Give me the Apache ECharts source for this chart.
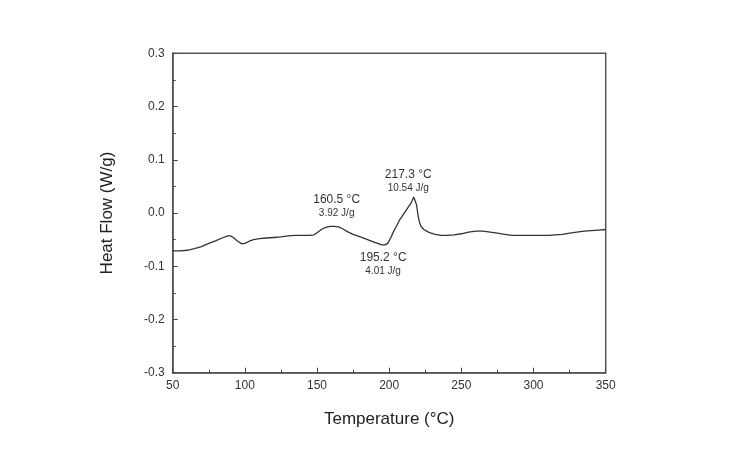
<!DOCTYPE html>
<html><head><meta charset="utf-8">
<script src="https://cdn.jsdelivr.net/npm/echarts@6/dist/echarts.min.js"></script>
<style>html,body{margin:0;padding:0;background:#fff}#c{width:737px;height:450px}</style>
</head><body><div id="c"></div>
<script>
var temps = [50,55,60,65,70,75,80,85,88,90,92,95,98,100,103,106,110,115,120,125,130,135,140,145,148,150,153,156,159,162,165,168,171,175,180,185,190,193,195,197,199,201,203,205,207,209,211,213,215,216,217,217.5,218,219,220,221,222,224,226,228,232,236,240,245,250,255,260,265,270,275,280,285,290,295,300,305,310,315,320,325,330,335,340,345,350];
var heatFlow = [-0.071,-0.071,-0.070,-0.067,-0.063,-0.057,-0.052,-0.046,-0.043,-0.043,-0.046,-0.053,-0.058,-0.057,-0.053,-0.050,-0.048,-0.047,-0.046,-0.045,-0.043,-0.042,-0.042,-0.042,-0.041,-0.037,-0.031,-0.027,-0.025,-0.025,-0.026,-0.030,-0.035,-0.040,-0.045,-0.050,-0.055,-0.058,-0.060,-0.060,-0.057,-0.047,-0.035,-0.025,-0.014,-0.006,0.002,0.010,0.018,0.024,0.030,0.032,0.030,0.015,-0.005,-0.018,-0.025,-0.031,-0.034,-0.037,-0.040,-0.042,-0.042,-0.041,-0.039,-0.036,-0.034,-0.034,-0.036,-0.038,-0.040,-0.042,-0.042,-0.042,-0.042,-0.042,-0.042,-0.041,-0.040,-0.038,-0.036,-0.034,-0.033,-0.032,-0.031];
var annTitles = ['160.5 \u00B0C','217.3 \u00B0C','195.2 \u00B0C'];
var annSubs = ['3.92 J/g','10.54 J/g','4.01 J/g'];
var annX = [163.6, 213.2, 195.8];
var annY = [0.012, 0.060, -0.096];

var data = temps.map(function(t,i){return [t, heatFlow[i]];});
var marks = annTitles.map(function(t,i){
  return {coord:[annX[i], annY[i]], value:t,
    label:{formatter:'{a|'+t+'}\n{b|'+annSubs[i]+'}'}};
});
var chart = echarts.init(document.getElementById('c'));
var tickCol = '#444';
chart.setOption({
  animation:false,
  backgroundColor:'#fff',
  grid:{left:172.7,right:131.3,top:53.3,bottom:77.3,show:true,borderColor:'#555',borderWidth:1.5,backgroundColor:'transparent'},
  xAxis:{type:'value',min:50,max:350,interval:50,
    name:'Temperature (\u00B0C)',nameLocation:'middle',nameGap:38,
    nameTextStyle:{fontFamily:'Liberation Sans, Arial',fontSize:17,color:'#222'},
    axisLine:{onZero:false,lineStyle:{color:'#555',width:1.5}},
    axisTick:{inside:true,length:5,lineStyle:{color:tickCol}},
    minorTick:{show:true,splitNumber:2,length:3,lineStyle:{color:tickCol}},
    splitLine:{show:false},
    axisLabel:{fontFamily:'Liberation Sans, Arial',fontSize:12,color:'#333',margin:7}},
  yAxis:{type:'value',min:-0.3,max:0.3,interval:0.1,
    name:'Heat Flow (W/g)',nameLocation:'middle',nameGap:57,
    nameTextStyle:{fontFamily:'Liberation Sans, Arial',fontSize:17,color:'#222'},
    axisLine:{onZero:false,lineStyle:{color:'#555',width:1.5}},
    axisTick:{inside:true,length:5,lineStyle:{color:tickCol}},
    minorTick:{show:true,splitNumber:2,length:3,lineStyle:{color:tickCol}},
    splitLine:{show:false},
    axisLabel:{fontFamily:'Liberation Sans, Arial',fontSize:12,color:'#333',margin:8,
      formatter:function(v){return v.toFixed(1);}}},
  series:[{type:'line',data:data,showSymbol:false,smooth:false,
    lineStyle:{color:'#333',width:1.3},
    markPoint:{symbol:'circle',symbolSize:1,itemStyle:{color:'rgba(0,0,0,0)'},
      label:{show:true,position:'inside',color:'#333',lineHeight:14,
        rich:{a:{fontFamily:'Liberation Sans, Arial',fontSize:12,color:'#333',lineHeight:14},
              b:{fontFamily:'Liberation Sans, Arial',fontSize:10,color:'#333',lineHeight:13}}},
      data:marks}}]
});
</script></body></html>
